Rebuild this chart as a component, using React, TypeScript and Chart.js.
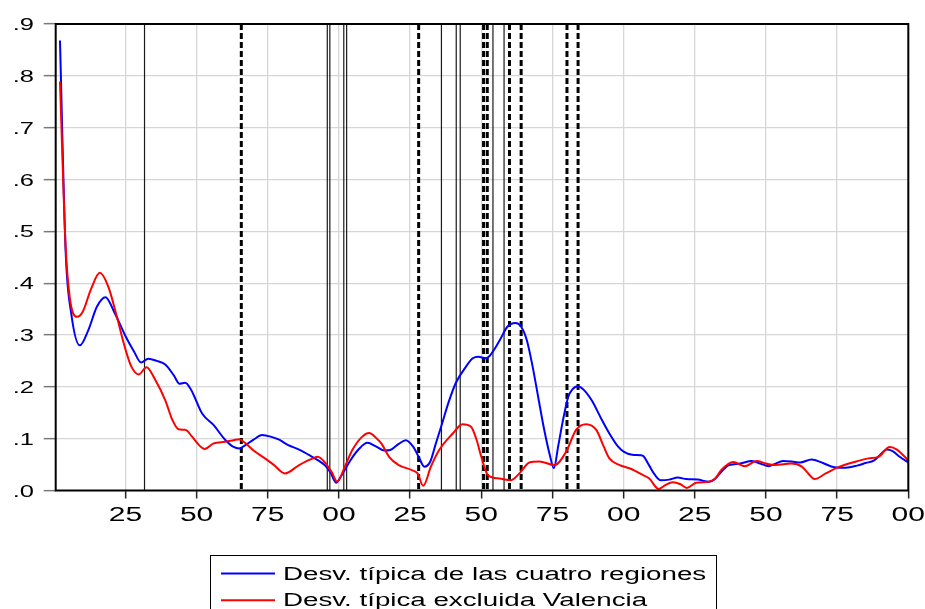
import React, { useEffect, useRef } from 'react';
import { Chart, registerables } from 'chart.js';

Chart.register(...registerables);

// ---- data ----
const blueYears = [
  1802, 1804, 1806, 1809, 1812, 1815, 1818, 1821, 1825, 1828, 1830.5, 1833, 1836, 1839, 1842, 1844,
  1846, 1848, 1852, 1856, 1860, 1863, 1865, 1867, 1870, 1873, 1876, 1879, 1882, 1886, 1890, 1893,
  1895, 1897, 1899, 1901, 1904, 1907, 1910, 1913, 1916, 1918, 1921, 1923.5, 1926, 1928, 1930, 1932,
  1934, 1936, 1938.5, 1941, 1944.5, 1947, 1949, 1951.5, 1953, 1955, 1957, 1959, 1962, 1964, 1966,
  1968, 1970, 1972, 1974, 1975.5, 1977, 1978.5, 1980.5, 1982, 1984, 1987, 1989, 1992, 1995, 1998,
  2000, 2003, 2006, 2007, 2009, 2011, 2013, 2016, 2019, 2022, 2026, 2030, 2032, 2035, 2037, 2041,
  2045, 2048, 2051, 2053, 2056, 2059, 2062, 2066, 2070, 2074, 2078, 2082, 2085, 2088, 2090, 2092.4,
  2094.5, 2097, 2100,
];
const blueValues = [
  0.868, 0.46, 0.34, 0.28, 0.31, 0.355, 0.373, 0.345, 0.298, 0.268, 0.247, 0.254, 0.25, 0.243, 0.222, 0.206,
  0.208, 0.195, 0.148, 0.126, 0.098, 0.084, 0.081, 0.087, 0.098, 0.107, 0.104, 0.098, 0.088, 0.079, 0.067, 0.057,
  0.049, 0.035, 0.015, 0.03, 0.058, 0.08, 0.092, 0.085, 0.077, 0.078, 0.09, 0.097, 0.085, 0.065, 0.046, 0.055,
  0.09, 0.125, 0.17, 0.207, 0.238, 0.255, 0.258, 0.255, 0.26, 0.276, 0.295, 0.315, 0.323, 0.316, 0.29,
  0.24, 0.18, 0.12, 0.07, 0.043, 0.085, 0.13, 0.18, 0.195, 0.201, 0.188, 0.172, 0.14, 0.11, 0.085,
  0.075, 0.069, 0.068, 0.066, 0.048, 0.03, 0.02, 0.021, 0.025, 0.022, 0.021, 0.017, 0.022, 0.04, 0.049, 0.052,
  0.057, 0.052, 0.047, 0.051, 0.057, 0.056, 0.054, 0.06, 0.053, 0.045, 0.044, 0.048, 0.053, 0.058, 0.068, 0.079,
  0.076, 0.065, 0.054,
];
const redYears = [
  1802, 1804, 1805.5, 1808, 1810, 1813, 1816, 1819, 1822, 1824.5, 1827, 1829.7, 1832.4, 1835.5, 1839,
  1841.5, 1843.7, 1846, 1848.4, 1850.8, 1852.8, 1856, 1860, 1863, 1865, 1867, 1870, 1874, 1877, 1881,
  1886, 1890, 1892.5, 1895.4, 1897.5, 1899.4, 1902, 1904.7, 1908, 1910.6, 1913, 1915, 1917.6, 1921,
  1925.8, 1927.6, 1929.6, 1932.3, 1935.2, 1940, 1943.4, 1946.4, 1948.5, 1950, 1952.3, 1956.4, 1960.5,
  1963.4, 1966.9, 1970.4, 1975.7, 1979.8, 1983.3, 1986.8, 1990.4, 1993, 1995, 1998.6, 2002, 2004, 2006,
  2009, 2012.3, 2014.5, 2017.3, 2020, 2022.2, 2025.5, 2030, 2032, 2034.4, 2038.5, 2042.6, 2046.7, 2050,
  2053.2, 2059, 2062.6, 2065, 2067, 2071, 2075.4, 2081, 2086, 2089.5, 2093.5, 2096, 2100,
];
const redValues = [
  0.789, 0.47, 0.37, 0.335, 0.345, 0.39, 0.42, 0.393, 0.335, 0.282, 0.24, 0.224, 0.238, 0.213, 0.174,
  0.136, 0.118, 0.117, 0.104, 0.088, 0.08, 0.091, 0.094, 0.097, 0.099, 0.092, 0.077, 0.062, 0.05, 0.033,
  0.049, 0.06, 0.065, 0.052, 0.035, 0.017, 0.045, 0.078, 0.103, 0.111, 0.102, 0.09, 0.065, 0.049,
  0.039, 0.033, 0.009, 0.046, 0.078, 0.11, 0.128, 0.123, 0.095, 0.065, 0.03, 0.023, 0.02,
  0.033, 0.054, 0.056, 0.049, 0.075, 0.117, 0.128, 0.117, 0.085, 0.062, 0.049, 0.043, 0.038, 0.032,
  0.023, 0.003, 0.01, 0.016, 0.012, 0.005, 0.015, 0.017, 0.022, 0.04, 0.055, 0.047, 0.057, 0.052,
  0.049, 0.052, 0.046, 0.032, 0.022, 0.033, 0.045, 0.055, 0.062, 0.065, 0.084, 0.079, 0.058,
];
const seriesLabels = ['Desv. típica de las cuatro regiones', 'Desv. típica excluida Valencia'];
const seriesColors = ['#0000ff', '#ff0000'];

const xTickValues = [1825, 1850, 1875, 1900, 1925, 1950, 1975, 2000, 2025, 2050, 2075, 2100];
const xTickLabels = ['25', '50', '75', '00', '25', '50', '75', '00', '25', '50', '75', '00'];
const yTickValues = [0, 0.1, 0.2, 0.3, 0.4, 0.5, 0.6, 0.7, 0.8, 0.9];
const yTickLabels = ['.0', '.1', '.2', '.3', '.4', '.5', '.6', '.7', '.8', '.9'];

const solidMarkerYears = [1831.7, 1895.9, 1896.8, 1901.7, 1902.7, 1936.0, 1941.2, 1942.6, 1954.1, 1958.0];
const dashedMarkerYears = [1865.7, 1928.0, 1950.8, 1952.1, 1959.9, 1964.0, 1980.1, 1984.0];

// ---- drawing helpers ----
const FONT = '"Liberation Sans", Arial, sans-serif';

function stretchedText(
  ctx: CanvasRenderingContext2D,
  text: string,
  x: number,
  y: number,
  size: number,
  align: CanvasTextAlign,
  stretch: number
) {
  ctx.save();
  ctx.translate(x, y);
  ctx.scale(stretch, 1);
  ctx.font = `${size}px ${FONT}`;
  ctx.textAlign = align;
  ctx.textBaseline = 'alphabetic';
  ctx.fillStyle = '#000';
  ctx.fillText(text, 0, 0);
  ctx.restore();
}

const overlayPlugin = {
  id: 'overlay',
  beforeDatasetsDraw(chart: any) {
    const { ctx, chartArea: a, scales } = chart;
    const xs = scales.x;
    ctx.save();
    ctx.beginPath();
    ctx.rect(a.left, a.top, a.right - a.left, a.bottom - a.top);
    ctx.clip();
    ctx.strokeStyle = '#1a1a1a';
    ctx.lineWidth = 1.2;
    solidMarkerYears.forEach((v) => {
      const px = xs.getPixelForValue(v);
      ctx.beginPath();
      ctx.moveTo(px, a.top);
      ctx.lineTo(px, a.bottom);
      ctx.stroke();
    });
    ctx.strokeStyle = '#000';
    ctx.lineWidth = 3;
    ctx.setLineDash([6, 3]);
    dashedMarkerYears.forEach((v) => {
      const px = xs.getPixelForValue(v);
      ctx.beginPath();
      ctx.moveTo(px, a.top);
      ctx.lineTo(px, a.bottom);
      ctx.stroke();
    });
    ctx.restore();
  },
  afterDraw(chart: any) {
    const { ctx, chartArea: a, scales } = chart;
    const xs = scales.x;
    const ys = scales.y;
    // frame
    ctx.save();
    ctx.strokeStyle = '#000';
    ctx.lineWidth = 2;
    ctx.strokeRect(a.left, a.top, a.right - a.left, a.bottom - a.top);
    ctx.restore();
    // y tick labels
    yTickValues.forEach((v, i) => {
      const py = ys.getPixelForValue(v);
      stretchedText(ctx, yTickLabels[i], 34, py + 6, 17, 'right', 1.5);
    });
    // x tick labels
    xTickValues.forEach((v, i) => {
      const px = xs.getPixelForValue(v);
      stretchedText(ctx, xTickLabels[i], px, a.bottom + 30, 20, 'center', 1.5);
    });
    // legend
    ctx.save();
    ctx.strokeStyle = '#000';
    ctx.lineWidth = 1;
    ctx.strokeRect(210.5, 555.5, 506, 70);
    chart.data.datasets.forEach((ds: any, i: number) => {
      const y = 573.5 + i * 26.7;
      ctx.strokeStyle = ds.borderColor;
      ctx.lineWidth = 2;
      ctx.beginPath();
      ctx.moveTo(221, y);
      ctx.lineTo(275, y);
      ctx.stroke();
      stretchedText(ctx, ds.label, 283, y + 6.2, 18, 'left', 1.54);
    });
    ctx.restore();
  },
};

export default function App() {
  const canvasRef = useRef<HTMLCanvasElement | null>(null);

  useEffect(() => {
    const canvas = canvasRef.current;
    if (!canvas) return;
    const chart = new Chart(canvas, {
      type: 'line',
      data: {
        datasets: [
          {
            label: seriesLabels[0],
            data: blueYears.map((x, i) => ({ x, y: blueValues[i] })),
            borderColor: seriesColors[0],
            borderWidth: 2,
            pointRadius: 0,
            cubicInterpolationMode: 'monotone',
            fill: false,
            order: 1,
          },
          {
            label: seriesLabels[1],
            data: redYears.map((x, i) => ({ x, y: redValues[i] })),
            borderColor: seriesColors[1],
            borderWidth: 2,
            pointRadius: 0,
            cubicInterpolationMode: 'monotone',
            fill: false,
            order: 0,
          },
        ],
      },
      options: {
        animation: false,
        responsive: false,
        devicePixelRatio: 1,
        layout: { padding: { left: 0, top: 24, right: 16.7, bottom: 0 } },
        plugins: { legend: { display: false }, tooltip: { enabled: false } },
        scales: {
          x: {
            type: 'linear',
            min: 1800.5,
            max: 2100,
            afterBuildTicks: (scale: any) => {
              scale.ticks = xTickValues.map((value) => ({ value }));
            },
            afterFit: (scale: any) => {
              scale.height = 118.5;
            },
            ticks: { display: false },
            grid: {
              color: '#d6d6d6',
              lineWidth: 1.3,
              drawTicks: true,
              tickLength: 8,
              tickColor: '#222',
              tickWidth: 1.5,
            },
            border: { display: false },
          },
          y: {
            type: 'linear',
            min: 0,
            max: 0.9,
            afterBuildTicks: (scale: any) => {
              scale.ticks = yTickValues.map((value) => ({ value }));
            },
            afterFit: (scale: any) => {
              scale.width = 55.7;
            },
            ticks: { display: false },
            grid: {
              color: '#d6d6d6',
              lineWidth: 1.3,
              drawTicks: true,
              tickLength: 12,
              tickColor: '#7a7a7a',
              tickWidth: 1.5,
            },
            border: { display: false },
          },
        },
      },
      plugins: [overlayPlugin],
    } as any);
    return () => chart.destroy();
  }, []);

  return (
    <div style={{ position: 'absolute', left: 0, top: 0, width: 925, height: 609, background: '#fff' }}>
      <canvas ref={canvasRef} width={925} height={609} style={{ display: 'block' }} />
    </div>
  );
}
